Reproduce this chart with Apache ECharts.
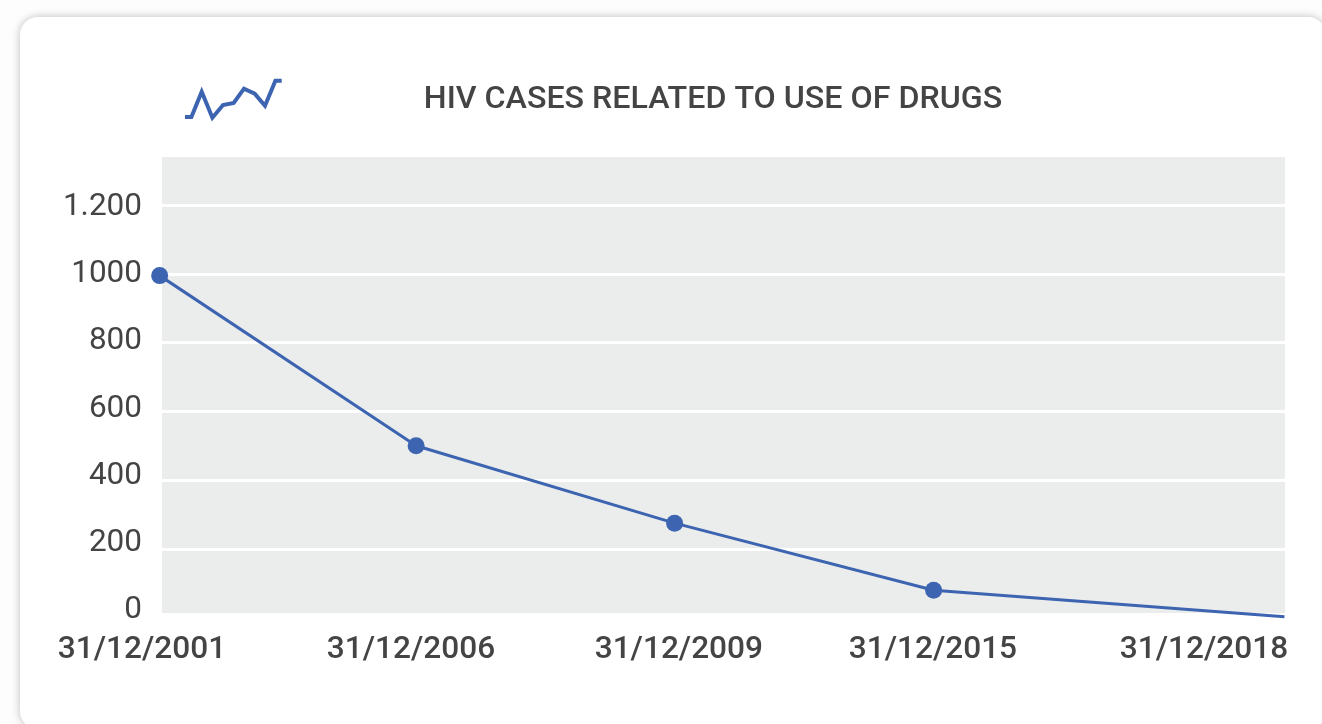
<!DOCTYPE html>
<html>
<head>
<meta charset="utf-8">
<script src="https://cdn.jsdelivr.net/npm/echarts@6/dist/echarts.min.js"></script>
<style>
  html, body { margin: 0; padding: 0; width: 1322px; height: 724px; overflow: hidden; background: #fdfdfd; }
  #card { position: absolute; left: 20px; top: 16.5px; width: 1306px; height: 712px; background: #fff;
          border-radius: 18px; box-shadow: 0 0 9px rgba(0,0,0,.26); }
  #chart { position: absolute; left: 0; top: 0; width: 1322px; height: 724px; }
</style>
</head>
<body>
<div id="card"></div>
<div id="chart"></div>
<script>
// Reported HIV cases linked to drug use, per reporting date
const periodPositions = [0, 0.994, 1.996, 3, 4.36];
const caseCounts = [995, 500, 275, 80, 3];
const dateLabels = ['31/12/2001', '31/12/2006', '31/12/2009', '31/12/2015', '31/12/2018'];
const dateLabelStops = [0, 1.013, 2.022, 2.979, 4];
const caseTicks = [0, 200, 400, 600, 800, 1000, 1200];
const caseTickLabels = ['0', '200', '400', '600', '800', '1000', '1.200'];

// Small trend glyph beside the title
const glyphX = [0, 6.4, 16.7, 27.4, 38, 48.7, 59, 69.7, 80, 90.4, 96.7];
const glyphY = [3, 3, 28.3, 2.3, 15, 17, 31.3, 26.3, 14.3, 39.3, 39.3];

const BLUE = '#3d64b0';
const INK = '#444444';
const FONT = 'Roboto';

const chart = echarts.init(document.getElementById('chart'));
chart.setOption({
  animation: false,
  backgroundColor: 'transparent',
  title: {
    text: 'HIV CASES RELATED TO USE OF DRUGS',
    left: 708, top: 79, textAlign: 'center',
    textStyle: { fontFamily: FONT, fontWeight: 500, fontSize: 32.2, color: INK }
  },
  grid: [
    { left: 162, top: 157, width: 1123, height: 456, show: true, backgroundColor: '#ebeded', borderWidth: 0 },
    { left: 142, top: 613, width: 1062, height: 1, show: false },
    { left: 185, top: 78, width: 97, height: 42, show: false }
  ],
  xAxis: [
    { gridIndex: 0, type: 'value', min: 0.009, max: 4.362, show: false },
    {
      gridIndex: 1, type: 'value', min: 0, max: 4, position: 'bottom',
      axisLine: { show: false }, axisTick: { show: false }, splitLine: { show: false },
      axisLabel: {
        customValues: dateLabelStops, margin: 20, hideOverlap: false,
        fontFamily: FONT, fontWeight: 500, fontSize: 31.6, color: INK,
        formatter: (v, i) => dateLabels[dateLabelStops.indexOf(v)]
      }
    },
    { gridIndex: 2, type: 'value', min: 0, max: 97, show: false }
  ],
  yAxis: [
    {
      gridIndex: 0, type: 'value', min: 13.7, max: 1340, position: 'left',
      axisLine: { show: false }, axisLabel: { show: false },
      axisTick: { show: false, customValues: caseTicks },
      splitLine: { show: true, lineStyle: { color: '#ffffff', width: 3 } }
    },
    {
      gridIndex: 0, type: 'value', min: -7.5, max: 1349, position: 'left',
      axisLine: { show: false }, axisTick: { show: false }, splitLine: { show: false },
      axisLabel: {
        customValues: caseTicks, margin: 20,
        fontFamily: FONT, fontSize: 31.5, color: INK,
        formatter: (v) => caseTickLabels[caseTicks.indexOf(v)]
      }
    },
    { gridIndex: 1, type: 'value', show: false },
    { gridIndex: 2, type: 'value', min: 0, max: 42, show: false }
  ],
  series: [
    {
      type: 'line', xAxisIndex: 0, yAxisIndex: 0, clip: false,
      data: periodPositions.map((p, i) => ({
        value: [p, caseCounts[i]],
        symbol: i < periodPositions.length - 1 ? 'circle' : 'none'
      })),
      showAllSymbol: true, symbol: 'circle', symbolSize: 17,
      lineStyle: { color: BLUE, width: 3 }, itemStyle: { color: BLUE }
    },
    {
      type: 'line', xAxisIndex: 2, yAxisIndex: 3, clip: false, symbol: 'none',
      data: glyphX.map((x, i) => [x, glyphY[i]]),
      lineStyle: { color: BLUE, width: 4, join: 'miter' }
    }
  ]
});
</script>
</body>
</html>
